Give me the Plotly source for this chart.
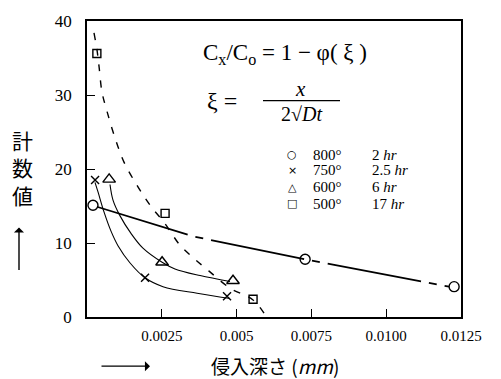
import plotly.graph_objects as go

# ---- measured points (depth in mm, count value) ----
depth_800 = [0.0002, 0.00729, 0.01227]
count_800 = [15.1, 7.8, 4.1]
depth_750 = [0.00027, 0.00194, 0.00468]
count_750 = [18.5, 5.3, 2.8]
depth_600 = [0.00074, 0.00251, 0.00488]
count_600 = [18.6, 7.4, 4.9]
depth_500 = [0.00033, 0.00261, 0.00555]
count_500 = [35.6, 14.0, 2.4]

# ---- hand-fitted curves through each series ----
fit_800_x = [0.00033, 0.00354, 0.00729, 0.0121]
fit_800_y = [14.9, 10.9, 7.8, 4.1]
fit_750_x = [0.000267, 0.000368, 0.000568, 0.000802, 0.00104, 0.00144, 0.00194, 0.00254, 0.00368, 0.00478]
fit_750_y = [18.2, 16.9, 14.2, 11.6, 9.6, 7.3, 5.3, 4.1, 3.2, 2.5]
fit_600_x = [0.000769, 0.000869, 0.0011, 0.00147, 0.00187, 0.00251, 0.00294, 0.00378, 0.00478]
fit_600_y = [17.9, 15.8, 13.7, 11.3, 9.3, 7.4, 6.5, 5.6, 4.8]
fit_500_x = [0.000234, 0.000334, 0.000401, 0.000501, 0.000668, 0.000936, 0.00124, 0.00167,
             0.00211, 0.00261, 0.00311, 0.00361, 0.00408, 0.00478, 0.00555, 0.00595]
fit_500_y = [38.4, 36.1, 33.9, 30.4, 27.8, 24.2, 20.9, 17.8, 15.1, 12.6, 9.7, 7.8, 6.2, 3.9, 2.3, 0.3]

x_tick_vals = [0.0025, 0.005, 0.0075, 0.01, 0.0125]
x_tick_text = ["0.0025", "0.005", "0.0075", "0.0100", "0.0125"]
y_tick_vals = [0, 10, 20, 30, 40]
y_tick_text = ["0", "10", "20", "30", "40"]

legend_symbols = ["○", "×", "△", "□"]
legend_temps = ["800°", "750°", "600°", "500°"]
legend_times = ["2 <i>hr</i>", "2.5 <i>hr</i>", "6 <i>hr</i>", "17 <i>hr</i>"]

INK = "black"
NUM_FONT = "Liberation Serif"
JP_FONT = "Noto Sans CJK JP"

W, H = 501, 379
L, R, T, B = 87, 40, 16, 62
PW, PH = W - L - R, H - T - B


def px(x):
    return (x - L) / PW


def py(y):
    return (H - B - y) / PH


def label(x, y, text, size, family=NUM_FONT, xanchor="center"):
    return dict(x=px(x), y=py(y), xref="paper", yref="paper", text=text,
                showarrow=False, xanchor=xanchor, yanchor="middle",
                font=dict(family=family, size=size, color=INK))


fig = go.Figure()

# fitted curves
fig.add_trace(go.Scatter(x=fit_800_x, y=fit_800_y, mode="lines",
                         line=dict(color=INK, width=1.8, dash="95px,8px,8px,8px")))
fig.add_trace(go.Scatter(x=fit_750_x, y=fit_750_y, mode="lines",
                         line=dict(color=INK, width=1.1, shape="spline")))
fig.add_trace(go.Scatter(x=fit_600_x, y=fit_600_y, mode="lines",
                         line=dict(color=INK, width=1.1, shape="spline")))
fig.add_trace(go.Scatter(x=fit_500_x, y=fit_500_y, mode="lines",
                         line=dict(color=INK, width=1.4, dash="7px,9px", shape="spline")))

# measured points
for xs, ys, sym, sz in [
    (depth_800, count_800, "circle-open", 10),
    (depth_750, count_750, "x-thin-open", 8),
    (depth_600, count_600, "triangle-up-open", 11),
    (depth_500, count_500, "square-open", 8),
]:
    fig.add_trace(go.Scatter(x=xs, y=ys, mode="markers", cliponaxis=False,
                             marker=dict(symbol=sym, size=sz, color=INK,
                                         line=dict(color=INK, width=1.4))))

annotations = []

# formulas
annotations.append(label(285, 50, "C<sub>x</sub>/C<sub>o</sub> = 1 − φ( ξ )", 23))
annotations.append(label(222, 97, "ξ =", 24))
annotations.append(label(300, 85, "<i>x</i>", 21))
annotations.append(label(301, 111, "2√<i>Dt</i>", 20))

# legend block
rows_y = [152, 168, 185, 202]
for sym, temp, tm, yy in zip(legend_symbols, legend_temps, legend_times, rows_y):
    annotations.append(label(292, yy, sym, 11, family="DejaVu Sans"))
    annotations.append(label(311, yy, temp, 15, xanchor="left"))
    annotations.append(label(370, yy, tm, 15, xanchor="left"))

# axis titles
annotations.append(label(22, 165, "計<br>数<br>値", 21, family=JP_FONT))
annotations.append(dict(x=px(19), y=py(226), xref="paper", yref="paper",
                        ax=0, ay=44, text="", showarrow=True, arrowhead=1,
                        arrowsize=1.2, arrowwidth=1.4, arrowcolor=INK))
annotations.append(label(275, 366, "侵入深さ (<i>mm</i>)", 19, family=JP_FONT))
annotations.append(dict(x=px(150), y=py(367), xref="paper", yref="paper",
                        ax=-50, ay=0, text="", showarrow=True, arrowhead=1,
                        arrowsize=1.2, arrowwidth=1.4, arrowcolor=INK))

shapes = [
    # fraction bar
    dict(type="line", xref="paper", yref="paper", x0=px(263), x1=px(340),
         y0=py(97), y1=py(97), line=dict(color=INK, width=1.3)),
]

fig.update_layout(
    width=W, height=H,
    margin=dict(l=L, r=R, t=T, b=B),
    paper_bgcolor="white", plot_bgcolor="white",
    showlegend=False,
    annotations=annotations,
    shapes=shapes,
    xaxis=dict(range=[0, 0.0125], tickvals=x_tick_vals, ticktext=x_tick_text,
               showgrid=False, zeroline=False, showline=True, mirror=True,
               linecolor=INK, linewidth=1.6, ticks="inside", ticklen=8,
               tickcolor=INK, tickwidth=1.2, ticklabelstandoff=4,
               tickfont=dict(family=NUM_FONT, size=15, color=INK)),
    yaxis=dict(range=[0, 40], tickvals=y_tick_vals, ticktext=y_tick_text,
               showgrid=False, zeroline=False, showline=True, mirror=True,
               linecolor=INK, linewidth=1.6, ticks="inside", ticklen=8,
               tickcolor=INK, tickwidth=1.2, ticklabelstandoff=10,
               tickfont=dict(family=NUM_FONT, size=17, color=INK)),
)

fig.write_html("out.html")
